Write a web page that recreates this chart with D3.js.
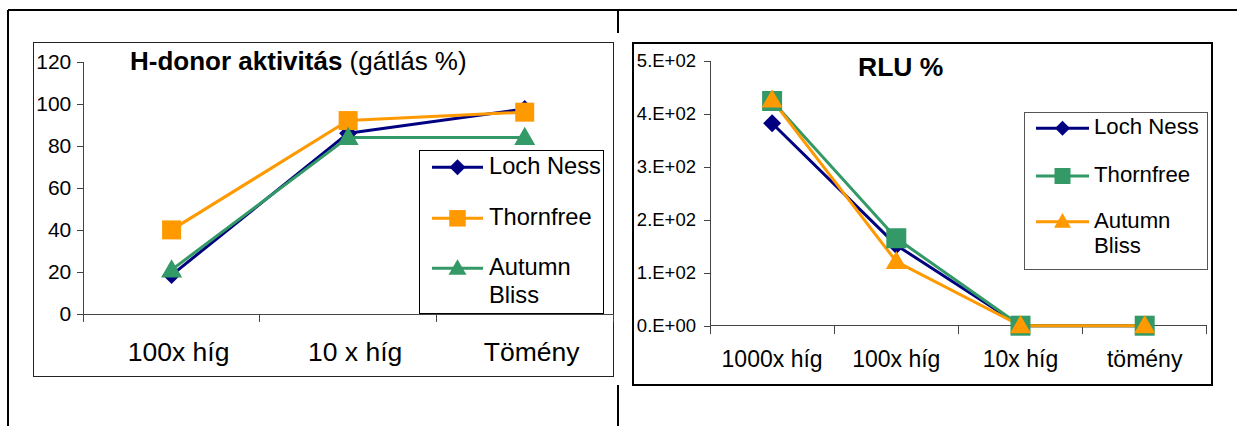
<!DOCTYPE html>
<html><head><meta charset="utf-8">
<script src="https://cdn.jsdelivr.net/npm/d3@7"></script>
<style>body{margin:0;background:#fff}svg{display:block}text{font-family:"Liberation Sans",Arial,sans-serif;fill:#000}</style>
</head><body>
<script>
// ---- data ----
const seriesNames = ["Loch Ness", "Thornfree", "Autumn Bliss"];
const legendLines = [["Loch Ness"], ["Thornfree"], ["Autumn", "Bliss"]];

const leftTitleBold = "H-donor aktivitás";
const leftTitleNormal = " (gátlás %)";
const leftCats = ["100x híg", "10 x híg", "Tömény"];
const leftLoch = [18.5, 86, 97.5];
const leftThorn = [40, 92, 96];
const leftAutumn = [21, 84, 84];
const leftTicks = [0, 20, 40, 60, 80, 100, 120];
const leftColors = ["#000080", "#FF9900", "#339966"];

const rightTitle = "RLU %";
const rightCats = ["1000x híg", "100x híg", "10x híg", "tömény"];
const rightLoch = [382, 152, 0, 0];
const rightThorn = [424, 165, 0, 0];
const rightAutumn = [426, 121, 0, 0];
const rightTicks = [0, 100, 200, 300, 400, 500];
const rightTickLabels = ["0.E+00", "1.E+02", "2.E+02", "3.E+02", "4.E+02", "5.E+02"];
const rightColors = ["#000080", "#339966", "#FF9900"];

const shapes = ["diamond", "square", "triangle"];

// ---- drawing ----
const W = 1237, H = 426;
const svg = d3.select("body").append("svg").attr("width", W).attr("height", H);

// outer table frame
svg.append("line").attr("x1", 8).attr("x2", W).attr("y1", 10).attr("y2", 10).attr("stroke", "#000").attr("stroke-width", 2);
svg.append("line").attr("x1", 8).attr("x2", 8).attr("y1", 10).attr("y2", H).attr("stroke", "#000").attr("stroke-width", 2);
svg.append("line").attr("x1", 618).attr("x2", 618).attr("y1", 10).attr("y2", 33).attr("stroke", "#000").attr("stroke-width", 2);
svg.append("line").attr("x1", 618).attr("x2", 618).attr("y1", 385).attr("y2", H).attr("stroke", "#000").attr("stroke-width", 2);

function symbolPath(shape, size) {
  if (shape === "diamond") return d3.symbol(d3.symbolSquare, size * size / 2)();
  if (shape === "square") return d3.symbol(d3.symbolSquare, size * size)();
  return d3.symbol(d3.symbolTriangle, size * size * Math.sqrt(3) / 4)();
}
function marker(g, shape, x, y, color, size) {
  const p = g.append("path").attr("d", symbolPath(shape, size)).attr("fill", color);
  if (shape === "diamond") p.attr("transform", `translate(${x},${y}) rotate(45)`);
  else if (shape === "triangle") p.attr("transform", `translate(${x},${y + size * 0.07})`);
  else p.attr("transform", `translate(${x},${y})`);
}

function drawChart(cfg) {
  const g = svg.append("g");
  g.append("rect").attr("x", cfg.box[0]).attr("y", cfg.box[1]).attr("width", cfg.box[2] - cfg.box[0]).attr("height", cfg.box[3] - cfg.box[1])
    .attr("fill", "#fff").attr("stroke", cfg.boxColor).attr("stroke-width", cfg.boxWidth).attr("shape-rendering", "crispEdges");

  const x = d3.scaleBand().domain(cfg.cats).range([cfg.plot[0], cfg.plot[2]]).padding(0);
  const y = d3.scaleLinear().domain([0, d3.max(cfg.ticks)]).range([cfg.plot[3], cfg.plot[1]]);
  const axisColor = "#444";

  // y axis
  const ya = d3.axisLeft(y).tickValues(cfg.ticks).tickFormat((d, i) => cfg.tickLabels[i]).tickSize(6).tickSizeOuter(0).tickPadding(cfg.tickPad);
  const yg = g.append("g").attr("transform", `translate(${cfg.plot[0]},0)`).call(ya);
  yg.select(".domain").remove();
  yg.selectAll(".tick line").attr("stroke", axisColor).attr("shape-rendering", "crispEdges");
  yg.selectAll(".tick text").attr("font-size", cfg.tickFont).attr("font-family", '"Liberation Sans",Arial,sans-serif').attr("fill", "#000");
  g.append("line").attr("x1", cfg.plot[0]).attr("x2", cfg.plot[0]).attr("y1", y(d3.max(cfg.ticks))).attr("y2", y(0) + 8)
    .attr("stroke", axisColor).attr("shape-rendering", "crispEdges");

  // x axis
  g.append("line").attr("x1", cfg.plot[0]).attr("x2", cfg.plot[2]).attr("y1", y(0)).attr("y2", y(0))
    .attr("stroke", axisColor).attr("shape-rendering", "crispEdges");
  const bounds = cfg.cats.map(c => x(c)).concat([x.range()[1]]);
  g.selectAll(".xt").data(bounds).join("line").attr("x1", d => d).attr("x2", d => d).attr("y1", y(0)).attr("y2", y(0) + 8)
    .attr("stroke", axisColor).attr("shape-rendering", "crispEdges");
  g.selectAll(".xl").data(cfg.cats).join("text").attr("x", d => x(d) + x.bandwidth() / 2 + cfg.catOffset).attr("y", cfg.catBaseline)
    .attr("text-anchor", "middle").attr("font-size", cfg.catFont).text(d => d);

  // title
  const t = g.append("text").attr("x", cfg.titleX).attr("y", cfg.titleY).attr("font-size", cfg.titleFont);
  cfg.title.forEach(([s, bold]) => t.append("tspan").attr("font-weight", bold ? "bold" : "normal").text(s));

  // series
  const line = d3.line().x((d, i) => x(cfg.cats[i]) + x.bandwidth() / 2).y(d => y(d));
  cfg.series.forEach((vals, si) => {
    g.append("path").attr("d", line(vals)).attr("fill", "none").attr("stroke", cfg.colors[si]).attr("stroke-width", 3).attr("stroke-linejoin", "round");
  });
  cfg.series.forEach((vals, si) => {
    vals.forEach((v, i) => marker(g, shapes[si], x(cfg.cats[i]) + x.bandwidth() / 2, y(v), cfg.colors[si], cfg.markerSize[si]));
  });

  // legend
  const L = cfg.legend;
  g.append("rect").attr("x", L.box[0]).attr("y", L.box[1]).attr("width", L.box[2] - L.box[0]).attr("height", L.box[3] - L.box[1])
    .attr("fill", "#fff").attr("stroke", L.stroke).attr("stroke-width", 1).attr("shape-rendering", "crispEdges");
  legendLines.forEach((lines, si) => {
    const cy = L.rows[si];
    g.append("line").attr("x1", L.lineX[0]).attr("x2", L.lineX[1]).attr("y1", cy).attr("y2", cy).attr("stroke", cfg.colors[si]).attr("stroke-width", 3);
    marker(g, shapes[si], (L.lineX[0] + L.lineX[1]) / 2, cy, cfg.colors[si], L.markerSize[si]);
    lines.forEach((s, li) => g.append("text").attr("x", L.textX).attr("y", cy + L.baseOff + li * L.lineH).attr("font-size", L.font).text(s));
  });
}

drawChart({
  box: [33, 42, 613, 376], boxColor: "#222", boxWidth: 1,
  plot: [83.3, 61.7, 613, 314],
  cats: leftCats, ticks: leftTicks, tickLabels: leftTicks.map(String), tickFont: "21px", tickPad: 6,
  catFont: "26.5px", catBaseline: 360.5, catOffset: 7,
  title: [[leftTitleBold, true], [leftTitleNormal, false]], titleX: 130, titleY: 70, titleFont: "26px",
  series: [leftLoch, leftThorn, leftAutumn], colors: leftColors, markerSize: [18, 19, 21],
  legend: { box: [419.5, 150, 603.5, 313.5], stroke: "#000", lineX: [432, 483], rows: [167.3, 218.3, 268.3], textX: 489, baseOff: 6.7, lineH: 28.3, font: "23.7px", markerSize: [16, 16.5, 18] }
});

drawChart({
  box: [632.5, 42.5, 1211.5, 384.5], boxColor: "#000", boxWidth: 2,
  plot: [710, 60.7, 1206.8, 325.7],
  cats: rightCats, ticks: rightTicks, tickLabels: rightTickLabels, tickFont: "18.5px", tickPad: 8,
  catFont: "23px", catBaseline: 367, catOffset: 0,
  title: [[rightTitle, true]], titleX: 858, titleY: 76, titleFont: "26.5px",
  series: [rightLoch, rightThorn, rightAutumn], colors: rightColors, markerSize: [18, 20, 21],
  legend: { box: [1024.5, 112.5, 1207.5, 269.5], stroke: "#555", lineX: [1036, 1089], rows: [128.3, 176, 221.7], textX: 1094, baseOff: 6, lineH: 25.6, font: "22.2px", markerSize: [15, 16, 17] }
});
</script>
</body></html>
